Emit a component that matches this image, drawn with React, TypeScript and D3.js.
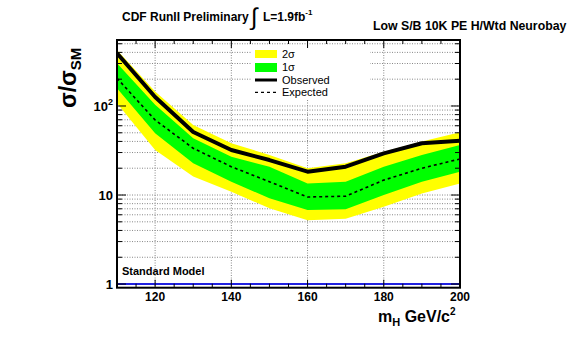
import React from 'react'
import * as d3 from 'd3'

// Higgs mass points (GeV/c^2)
const mass = [110, 120, 130, 140, 150, 160, 170, 180, 190, 200]
// limits on sigma/sigma_SM
const observed = [391, 126, 51, 32, 24.7, 18.3, 20.8, 29.4, 38.1, 40.8]
const expected = [205, 69.6, 33.5, 20.8, 14.1, 9.5, 9.7, 14.7, 20, 25.4]
const plus1 = [302, 103, 43.4, 26.9, 20.8, 13.5, 14.1, 20.8, 28.2, 36.5]
const minus1 = [158, 49.4, 22.7, 14.1, 9.2, 6.8, 6.9, 10, 14.1, 18.3]
const plus2 = [426, 145, 61, 38.1, 28.2, 20, 22.7, 30.7, 39.8, 50.6]
const minus2 = [107, 32, 16.1, 10.9, 7.1, 5.2, 5.4, 7.4, 10.4, 13.5]

const xTicks = [120, 140, 160, 180, 200]
const xMinor = d3.range(110, 201, 5)
const yMajor = [1, 10, 100]

const W = 567
const H = 364
const L = 117, R = 460, T = 40, B = 287.7
const font = "'Liberation Sans', Arial, Helvetica, sans-serif"

export default function App() {
  const x = d3.scaleLinear().domain([110, 200]).range([L, R])
  const y = d3.scaleLog().domain([0.91, 551]).range([B, T])

  const yMinor: number[] = []
  ;[1, 10, 100].forEach((d) => {
    for (let k = 2; k <= 9; k++) {
      const v = d * k
      if (v < 551) yMinor.push(v)
    }
  })

  const band = (lo: number[], hi: number[]) =>
    d3.area<number>()
      .x((_, i) => x(mass[i]))
      .y0((_, i) => y(lo[i]))
      .y1((_, i) => y(hi[i]))(mass) || ''
  const line = (vals: number[]) =>
    d3.line<number>()
      .x((_, i) => x(mass[i]))
      .y((_, i) => y(vals[i]))(mass) || ''

  const grid = '#888'
  return (
    <svg width={W} height={H} style={{ position: 'absolute', left: 0, top: 0, background: 'white' }} fontFamily={font}>
      <defs>
        <clipPath id="plot">
          <rect x={L} y={T} width={R - L} height={B - T} />
        </clipPath>
      </defs>

      {/* grid */}
      <g stroke={grid} strokeWidth={1} strokeDasharray="1,1.5">
        {xTicks.filter((d) => d < 200).map((d) => (
          <line key={'gx' + d} x1={x(d)} x2={x(d)} y1={T} y2={B} />
        ))}
        {[...yMajor, ...yMinor].map((d) => (
          <line key={'gy' + d} x1={L} x2={R} y1={y(d)} y2={y(d)} />
        ))}
      </g>

      <g clipPath="url(#plot)">
        <path d={band(minus2, plus2)} fill="#ffff00" />
        <path d={band(minus1, plus1)} fill="#00ff00" />
        <path d={line(expected)} fill="none" stroke="black" strokeWidth={1.6} strokeDasharray="3,3" />
        <path d={line(observed)} fill="none" stroke="black" strokeWidth={4} strokeLinejoin="round" />
        <line x1={L} x2={R} y1={y(1)} y2={y(1)} stroke="#2020e0" strokeWidth={2} />
      </g>

      {/* legend */}
      <rect x={252} y={46} width={118} height={54} fill="white" />
      <rect x={255} y={50} width={22} height={8} fill="#ffff00" />
      <rect x={255} y={63} width={22} height={9} fill="#00ff00" />
      <line x1={255} x2={277} y1={80} y2={80} stroke="black" strokeWidth={3} />
      <line x1={255} x2={277} y1={92.3} y2={92.3} stroke="black" strokeWidth={1.3} strokeDasharray="3,3" />
      <g fontSize={11} fill="black">
        <text x={282} y={58}>2σ</text>
        <text x={282} y={71}>1σ</text>
        <text x={282} y={84}>Observed</text>
        <text x={282} y={96}>Expected</text>
      </g>

      <text x={122} y={275} fontSize={11} fontWeight="bold">Standard Model</text>

      {/* ticks */}
      <g stroke="black" strokeWidth={1}>
        {xMinor.map((d) => {
          const len = d % 20 === 0 ? 8 : 4
          return (
            <g key={'tx' + d}>
              <line x1={x(d)} x2={x(d)} y1={B} y2={B - len} />
              <line x1={x(d)} x2={x(d)} y1={T} y2={T + len} />
            </g>
          )
        })}
        {[...yMajor, ...yMinor].map((d) => {
          const len = yMajor.includes(d) ? 9 : 5
          return (
            <g key={'ty' + d}>
              <line x1={L} x2={L + len} y1={y(d)} y2={y(d)} />
              <line x1={R} x2={R - len} y1={y(d)} y2={y(d)} />
            </g>
          )
        })}
      </g>
      <rect x={L} y={T} width={R - L} height={B - T} fill="none" stroke="black" strokeWidth={2} />

      {/* tick labels */}
      <g fontSize={12} fontWeight="bold" textAnchor="middle">
        {xTicks.map((d) => (
          <text key={'lx' + d} x={x(d)} y={301}>{d}</text>
        ))}
      </g>
      <g fontSize={13} fontWeight="bold" textAnchor="end">
        <text x={113} y={y(1) + 5}>1</text>
        <text x={113} y={y(10) + 5}>10</text>
        <text x={113} y={y(100) + 5}>10<tspan dy={-6} fontSize={9}>2</tspan></text>
      </g>

      {/* axis titles */}
      <text x={378} y={322} fontSize={16} fontWeight="bold">
        m<tspan dy={4} fontSize={11}>H</tspan><tspan dy={-4}> GeV/c</tspan><tspan dy={-7} fontSize={10}>2</tspan>
      </text>
      <text transform="translate(76,108) rotate(-90)" fontSize={23} fontWeight="bold">
        σ/σ<tspan dy={5} fontSize={15}>SM</tspan>
      </text>

      {/* titles */}
      <text x={122} y={21} fontSize={12} fontWeight="bold">CDF RunII Preliminary</text>
      <text x={251} y={25} fontSize={24} fontWeight="normal">∫</text>
      <text x={263} y={21} fontSize={12} fontWeight="bold">
        L=1.9fb<tspan dy={-6} fontSize={8}>-1</tspan>
      </text>
      <text x={373} y={30} fontSize={12.3} fontWeight="bold">Low S/B 10K PE H/Wtd Neurobay</text>
    </svg>
  )
}
